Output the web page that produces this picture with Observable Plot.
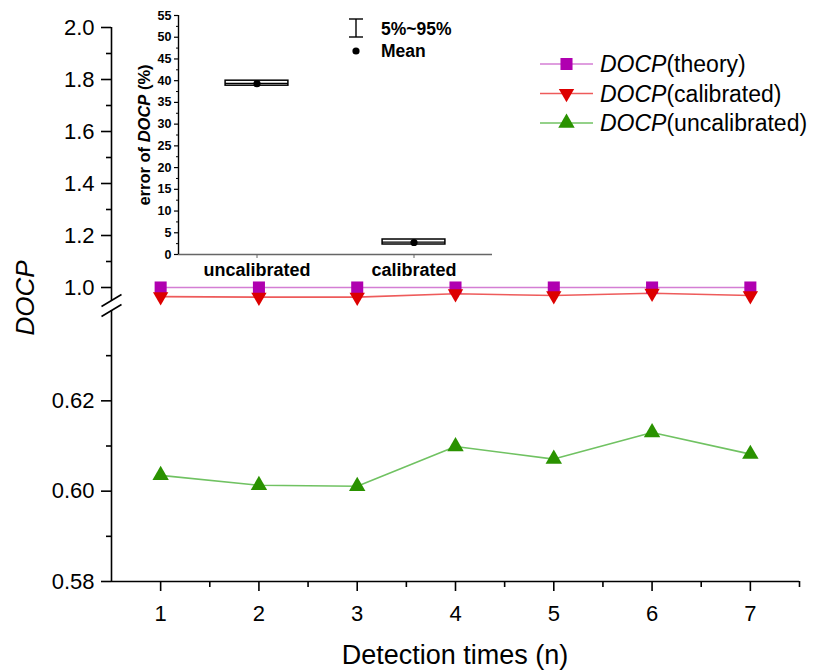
<!DOCTYPE html>
<html>
<head>
<meta charset="utf-8">
<script src="https://cdn.jsdelivr.net/npm/d3@7"></script>
<script src="https://cdn.jsdelivr.net/npm/@observablehq/plot@0.6"></script>
<style>
  body { margin: 0; background: #fff; }
  #chart { position: relative; width: 814px; height: 671px; overflow: hidden;
           font-family: "Liberation Sans", Arial, sans-serif; }
  #chart > svg { position: absolute; left: 0; top: 0; }
</style>
</head>
<body>
<div id="chart"></div>
<script>
// ---- main series: DOCP per detection ----
const detections = [1, 2, 3, 4, 5, 6, 7];
const docpTheory = [1.0, 1.0, 1.0, 1.0, 1.0, 1.0, 1.0];
const docpCalibrated = [0.965, 0.963, 0.963, 0.976, 0.969, 0.978, 0.969];
const docpUncalibrated = [0.6035, 0.6013, 0.6011, 0.6099, 0.6071, 0.6130, 0.6082];
const seriesKeys = ["theory", "calibrated", "uncalibrated"];

// broken y axis: lower and upper segments
const lowerSegment = [0.58, 0.64];
const upperSegment = [0.95, 2.0];
const yTicksLower = [0.58, 0.60, 0.62];
const yTicksLowerMinor = [0.59, 0.61, 0.63];
const yTicksUpper = [1.0, 1.2, 1.4, 1.6, 1.8, 2.0];
const yTicksUpperMinor = [1.1, 1.3, 1.5, 1.7, 1.9];
const xTicksMajor = [1, 2, 3, 4, 5, 6, 7];
const xTicksMinor = [1.5, 2.5, 3.5, 4.5, 5.5, 6.5, 7.5];
const xDomain = [0.5, 7.5];

// ---- inset: error of DOCP (%) ----
const errorGroups = ["uncalibrated", "calibrated"];
const errorBoxLow = [38.85, 2.3];
const errorBoxHigh = [40.0, 3.45];
const errorMedian = [39.4, 2.85];
const errorMean = [39.3, 2.76];
const insetTicksMajor = [0, 5, 10, 15, 20, 25, 30, 35, 40, 45, 50, 55];
const insetTicksMinor = [2.5, 7.5, 12.5, 17.5, 22.5, 27.5, 32.5, 37.5, 42.5, 47.5, 52.5];

const styles = {
  theory:       {line: "#d47ed4", marker: "#b000b0", symbol: "square",   r: 6.8, rotate: 0},
  calibrated:   {line: "#ee5b5b", marker: "#dd0000", symbol: "triangle", r: 5.7, rotate: 180},
  uncalibrated: {line: "#70c262", marker: "#2a9200", symbol: "triangle", r: 6.1, rotate: 0}
};

const seriesValues = {theory: docpTheory, calibrated: docpCalibrated, uncalibrated: docpUncalibrated};
const rows = seriesKeys.flatMap(key =>
  detections.map((n, i) => ({n, key, value: seriesValues[key][i]})));

// two parallel slashes marking the axis break
const breakSymbol = {
  draw(context) {
    context.moveTo(-10, 1); context.lineTo(10, -11);
    context.moveTo(-10, 11); context.lineTo(10, -1);
  }
};

const yFormat = d => d >= 0.9 ? d.toFixed(1) : d.toFixed(2);
const font = "'Liberation Sans', Arial, sans-serif";
const plotStyle = {background: "transparent", fontFamily: font, color: "black", overflow: "visible"};

function seriesMarks(keys) {
  const lines = keys.map(key => Plot.line(rows.filter(d => d.key === key),
    {x: "n", y: "value", stroke: styles[key].line, strokeWidth: 1.6}));
  const dots = keys.map(key => {
    const s = styles[key];
    return Plot.dot(rows.filter(d => d.key === key),
      {x: "n", y: "value", symbol: s.symbol, r: s.r, rotate: s.rotate, fill: s.marker, stroke: "none"});
  });
  return [...lines, ...dots];
}

// upper segment of the y axis: 0.95 – 2.0
const upper = Plot.plot({
  width: 814, height: 671,
  marginLeft: 111, marginRight: 15, marginTop: 27, marginBottom: 371,
  style: plotStyle,
  x: {domain: xDomain, axis: null},
  y: {domain: upperSegment},
  marks: [
    Plot.ruleX([xDomain[0]], {y1: upperSegment[0], y2: upperSegment[1], strokeWidth: 1.6}),
    Plot.axisY(yTicksUpper, {tickSize: 10, tickPadding: 7, tickFormat: yFormat, fontSize: 22,
                             strokeWidth: 1.6, label: null}),
    Plot.axisY(yTicksUpperMinor, {tickSize: 5, tickFormat: () => "", strokeWidth: 1.6, label: null}),
    ...seriesMarks(["theory", "calibrated"])
  ]
});

// lower segment of the y axis: 0.58 – 0.64, with the x axis
const lower = Plot.plot({
  width: 814, height: 671,
  marginLeft: 111, marginRight: 15, marginTop: 310, marginBottom: 90,
  style: plotStyle,
  x: {domain: xDomain},
  y: {domain: lowerSegment},
  marks: [
    Plot.ruleX([xDomain[0]], {y1: lowerSegment[0], y2: lowerSegment[1], strokeWidth: 1.6}),
    Plot.ruleY([lowerSegment[0]], {x1: xDomain[0], x2: xDomain[1], strokeWidth: 1.6}),
    Plot.axisY(yTicksLower, {tickSize: 10, tickPadding: 7, tickFormat: yFormat, fontSize: 22,
                             strokeWidth: 1.6, label: null}),
    Plot.axisY(yTicksLowerMinor, {tickSize: 5, tickFormat: () => "", strokeWidth: 1.6, label: null}),
    Plot.axisX(xTicksMajor, {tickSize: 10, tickPadding: 14, tickFormat: d => String(d), fontSize: 22,
                             strokeWidth: 1.6, label: null}),
    Plot.axisX(xTicksMinor, {tickSize: 6, tickFormat: () => "", strokeWidth: 1.6, label: null}),
    Plot.dot([lowerSegment[1]], {x: xDomain[0], y: d => d, dy: -5, symbol: breakSymbol,
                                 stroke: "black", strokeWidth: 1.6, fill: "none"}),
    ...seriesMarks(["uncalibrated"])
  ]
});

// inset box chart
const boxes = errorGroups.map((g, i) => ({
  pos: i + 1, group: g, low: errorBoxLow[i], high: errorBoxHigh[i],
  median: errorMedian[i], mean: errorMean[i]
}));
const boxHalf = 0.2;
const insetX = [0.5, 2.5];

const inset = Plot.plot({
  width: 500, height: 290,
  marginLeft: 178, marginRight: 8, marginTop: 15, marginBottom: 36,
  style: plotStyle,
  x: {domain: insetX},
  y: {domain: [0, 55]},
  marks: [
    Plot.ruleY([0], {x1: insetX[0], x2: insetX[1], stroke: "#666", strokeWidth: 1.4}),
    Plot.ruleX([insetX[0]], {y1: 0, y2: 55, stroke: "black", strokeWidth: 1.4}),
    Plot.axisY(insetTicksMajor, {tickSize: 4, tickPadding: 3, fontSize: 12.5, fontWeight: "bold",
                                 strokeWidth: 1.2, label: null}),
    Plot.axisY(insetTicksMinor, {tickSize: 2, tickFormat: () => "", strokeWidth: 1, label: null}),
    Plot.axisX(boxes.map(d => d.pos), {tickSize: 4, tickPadding: 5, fontSize: 18, fontWeight: "bold",
                                       tickFormat: p => errorGroups[p - 1], stroke: "#666", label: null}),
    Plot.rect(boxes, {x1: d => d.pos - boxHalf, x2: d => d.pos + boxHalf, y1: "low", y2: "high",
                      fill: "white", stroke: "black", strokeWidth: 1.5}),
    Plot.ruleY(boxes, {x1: d => d.pos - boxHalf, x2: d => d.pos + boxHalf, y: "median",
                       stroke: "black", strokeWidth: 1.2}),
    Plot.dot(boxes, {x: "pos", y: "mean", r: 3.6, fill: "black"})
  ]
});

const root = document.getElementById("chart");
root.append(lower, upper, inset);

// titles and legends
const overlay = d3.create("svg")
  .attr("width", 814).attr("height", 671)
  .style("font-family", font);

overlay.append("text")
  .attr("transform", "translate(25,298) rotate(-90)")
  .attr("text-anchor", "middle").attr("dy", "0.35em")
  .style("font-size", "26px").style("font-style", "italic")
  .text("DOCP");

overlay.append("text")
  .attr("x", 455).attr("y", 655)
  .attr("text-anchor", "middle").attr("dy", "0.35em")
  .style("font-size", "27px")
  .text("Detection times (n)");

const insetLabel = overlay.append("text")
  .attr("transform", "translate(144,135) rotate(-90)")
  .attr("text-anchor", "middle").attr("dy", "0.35em")
  .style("font-size", "16.5px").style("font-weight", "bold");
insetLabel.append("tspan").text("error of ");
insetLabel.append("tspan").style("font-style", "italic").text("DOCP");
insetLabel.append("tspan").text(" (%)");

// inset legend
const il = overlay.append("g").attr("stroke", "black").attr("stroke-width", 1.4);
il.append("line").attr("x1", 356).attr("x2", 356).attr("y1", 19).attr("y2", 37);
il.append("line").attr("x1", 349).attr("x2", 363).attr("y1", 19).attr("y2", 19);
il.append("line").attr("x1", 349).attr("x2", 363).attr("y1", 37).attr("y2", 37);
overlay.append("circle").attr("cx", 356).attr("cy", 51).attr("r", 3.6).attr("fill", "black");
overlay.append("text").attr("x", 381).attr("y", 29).attr("dy", "0.35em")
  .style("font-size", "17.5px").style("font-weight", "bold").text("5%~95%");
overlay.append("text").attr("x", 381).attr("y", 51).attr("dy", "0.35em")
  .style("font-size", "17.5px").style("font-weight", "bold").text("Mean");

// series legend
const symbolTypes = {square: d3.symbolSquare, triangle: d3.symbolTriangle};
seriesKeys.forEach((key, i) => {
  const s = styles[key];
  const cy = 64 + i * 29.5;
  const g = overlay.append("g");
  g.append("line").attr("x1", 540).attr("x2", 593).attr("y1", cy).attr("y2", cy)
    .attr("stroke", s.line).attr("stroke-width", 1.6);
  g.append("path")
    .attr("d", d3.symbol(symbolTypes[s.symbol], Math.PI * s.r * s.r)())
    .attr("transform", `translate(566.5,${cy}) rotate(${s.rotate})`)
    .attr("fill", s.marker);
  const t = g.append("text").attr("x", 600).attr("y", cy).attr("dy", "0.35em")
    .style("font-size", "23px");
  t.append("tspan").style("font-style", "italic").text("DOCP");
  t.append("tspan").text(`(${key})`);
});

root.append(overlay.node());
</script>
</body>
</html>
